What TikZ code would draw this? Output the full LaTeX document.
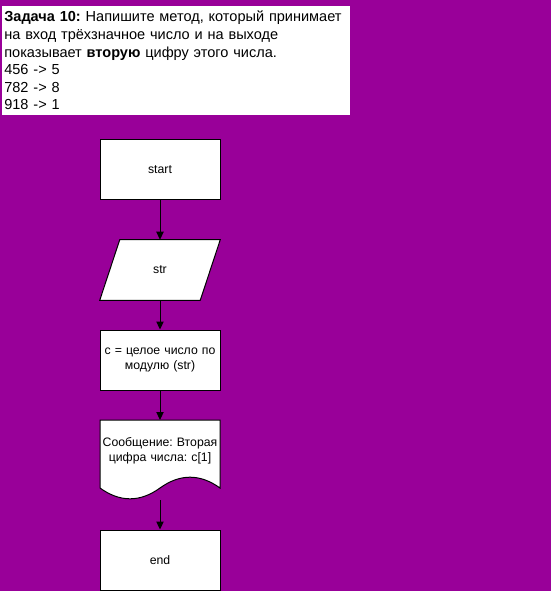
\documentclass[tikz,border=0pt]{standalone}
\usepackage{fontspec}
\setmainfont{Liberation Sans}
\usetikzlibrary{arrows.meta}
\definecolor{bgpurple}{RGB}{153,0,153}
\frenchspacing
\begin{document}
\begin{tikzpicture}[x=0.75pt,y=-0.75pt,
  box/.style={draw=black,line width=0.75pt,fill=white,minimum width=90pt,minimum height=45pt,
    inner sep=0pt,align=center,font=\fontsize{9.2}{11.5}\selectfont,text width=89pt},
  ghost/.style={minimum width=90pt,minimum height=45pt,inner sep=0pt,align=center,
    font=\fontsize{9.2}{11.5}\selectfont,text width=89pt},
  shapeline/.style={draw=black,line width=0.75pt,fill=white},
  flow/.style={draw=black,line width=0.75pt,-{Triangle[length=6pt,width=5.5pt]}}]
\fill[bgpurple] (0,0) rectangle (551,591);
\useasboundingbox (0,0) rectangle (551,591);

% task statement
\node[fill=white,anchor=north west,inner sep=0pt,outer sep=0pt,minimum width=261pt,minimum height=81.75pt,
  text width=259pt,align=left,font=\fontsize{10.9}{13.2}\selectfont] (task) at (2,6)
  {\hspace*{0.75pt}\textbf{Задача 10:} Напишите метод, который принимает\\
   \hspace*{0.75pt}на вход трёхзначное число и на выходе\\
   \hspace*{0.75pt}показывает \textbf{вторую} цифру этого числа.\\
   \hspace*{0.75pt}456 -> 5\\
   \hspace*{0.75pt}782 -> 8\\
   \hspace*{0.75pt}918 -> 1};

% flowchart
\node[box] (start) at (160,170) {start};

\node[ghost] (input) at (160,270) {};
\path[shapeline] ([xshift=15pt]input.north west) -- (input.north east)
  -- ([xshift=-15pt]input.south east) -- (input.south west) -- cycle;
\node[ghost] at (input) {str};

\node[box] (calc) at (160,360) {c = целое число по\\модулю (str)};

% document shape with a wavy lower edge
\path[shapeline] (100,420) -- (220,420) -- (220,488)
  .. controls (200,473.6) and (180,473.6) .. (160,488)
  .. controls (140,502.4) and (120,502.4) .. (100,488) -- cycle;
\node[ghost,minimum height=0pt] (msg) at (160,451) {Сообщение: Вторая\\цифра числа: c[1]};
\coordinate (msgbot) at (160,500);

\node[box] (end) at (160,560) {end};

\draw[flow] (start) -- (input.north);
\draw[flow] (input.south) -- (calc);
\draw[flow] (calc) -- (160,420);
\draw[flow] (msgbot) -- (end);
\end{tikzpicture}
\end{document}
